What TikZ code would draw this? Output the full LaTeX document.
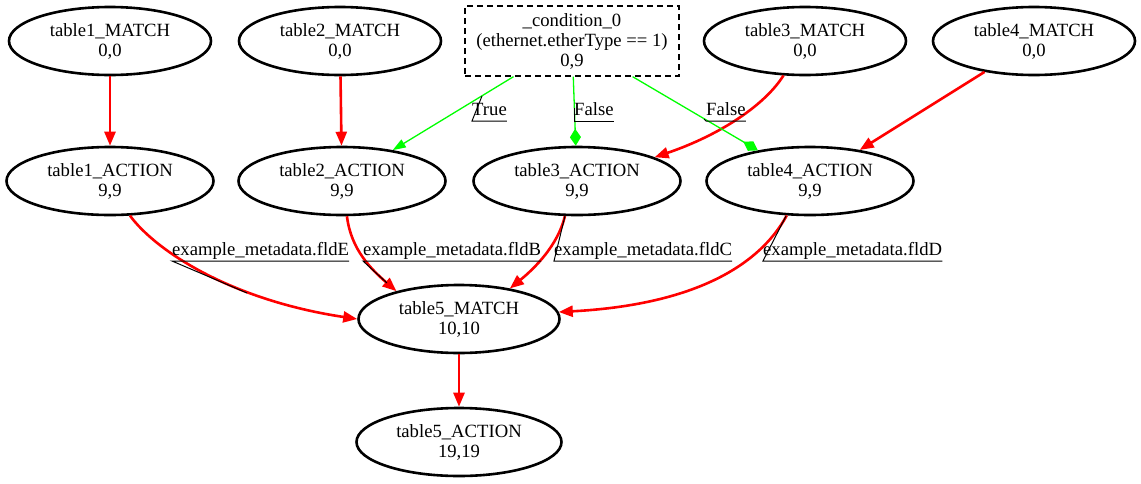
\documentclass[tikz,border=0pt]{standalone}
\usepackage{fontspec}
\setmainfont{Liberation Serif}
\usetikzlibrary{arrows.meta, shapes.geometric}

\begin{document}
\begin{tikzpicture}[x=1pt, y=-1pt,
    font=\fontsize{18.67}{20}\selectfont,
    tbl/.style={ellipse, draw, line width=2.6pt, minimum width=202pt, minimum height=68pt, inner sep=0pt, align=center},
    act/.style={tbl, minimum width=207pt},
    condbox/.style={draw, dash pattern=on 6pt off 4pt, line width=1.3pt, minimum width=214pt, minimum height=70pt, inner sep=0pt, align=center},
    flow/.style={red, line width=2.6pt, -{Triangle[length=14pt, width=11pt]}},
    ctrue/.style={green, line width=1.3pt, -{Triangle[length=13pt, width=9pt]}},
    cfalse/.style={green, line width=1.3pt, -{Diamond[length=17pt, width=11pt]}},
    lbl/.style={anchor=south west, inner sep=0pt, text depth=5.5pt},
    uline/.style={black, line width=1pt}]
    \useasboundingbox (0,0) rectangle (1141,483);

    % Define nodes
    \node[tbl] (t1M) at (110,41) {table1\_MATCH\\0,0};
    \node[tbl] (t2M) at (340,41) {table2\_MATCH\\0,0};
    \node[condbox] (cond) at (572,41) {\_condition\_0\\(ethernet.etherType == 1)\\0,9};
    \node[tbl] (t3M) at (805,41) {table3\_MATCH\\0,0};
    \node[tbl] (t4M) at (1034,41) {table4\_MATCH\\0,0};
    \node[act] (t1A) at (110,181) {table1\_ACTION\\9,9};
    \node[act] (t2A) at (342,181) {table2\_ACTION\\9,9};
    \node[act] (t3A) at (577,181) {table3\_ACTION\\9,9};
    \node[act] (t4A) at (810,181) {table4\_ACTION\\9,9};
    \node[tbl, minimum width=201pt] (t5M) at (459,319) {table5\_MATCH\\10,10};
    \node[tbl, minimum width=205pt] (t5A) at (459,442) {table5\_ACTION\\19,19};

    % Draw edges
    \draw[flow] (t1M) -- (t1A);
    \draw[flow] (t2M) -- (t2A);
    \draw[flow] (t3M.-122) .. controls (765,105) and (720,135) .. (t3A.17);
    \draw[flow] (t4M) -- (t4A);
    \draw[ctrue] (cond) -- (t2A);
    \draw[cfalse] (cond) -- (t3A);
    \draw[cfalse] (cond) -- (t4A);
    \draw[flow] (t1A.-60) .. controls (155,250) and (230,300) .. (t5M.west);
    \draw[flow] (t2A.-82) .. controls (351,250) and (372,270) .. (t5M.156);
    \draw[flow] (t3A.-109) .. controls (558,245) and (535,268) .. (t5M.31);
    \draw[flow] (t4A.-124) .. controls (758,268) and (690,305) .. (t5M.4);
    \draw[flow] (t5M) -- (t5A);

    % Edge labels
    \node[lbl] (lT) at (472,121) {True};
    \node[lbl] (lF1) at (574,121) {False};
    \node[lbl] (lF2) at (706,121) {False};
    \node[lbl] (lE) at (172,261) {example\_metadata.fldE};
    \node[lbl] (lB) at (363,261) {example\_metadata.fldB};
    \node[lbl] (lC) at (554,261) {example\_metadata.fldC};
    \node[lbl] (lD) at (763,261) {example\_metadata.fldD};

    % Points on the edges
    \coordinate (eT) at (482,96);
    \coordinate (eF1) at (574,108);
    \coordinate (eF2) at (704,119);
    \coordinate (eE) at (247,293);
    \coordinate (eB) at (387,283);
    \coordinate (eC) at (565,216);
    \coordinate (eD) at (786,216);

    % Underlines
    \foreach \l/\e in {lT/eT, lF1/eF1, lF2/eF2, lE/eE, lB/eB, lC/eC, lD/eD} {
        \draw[uline] (\l.south east) -- (\l.south west) -- (\e);
    }
\end{tikzpicture}
\end{document}
